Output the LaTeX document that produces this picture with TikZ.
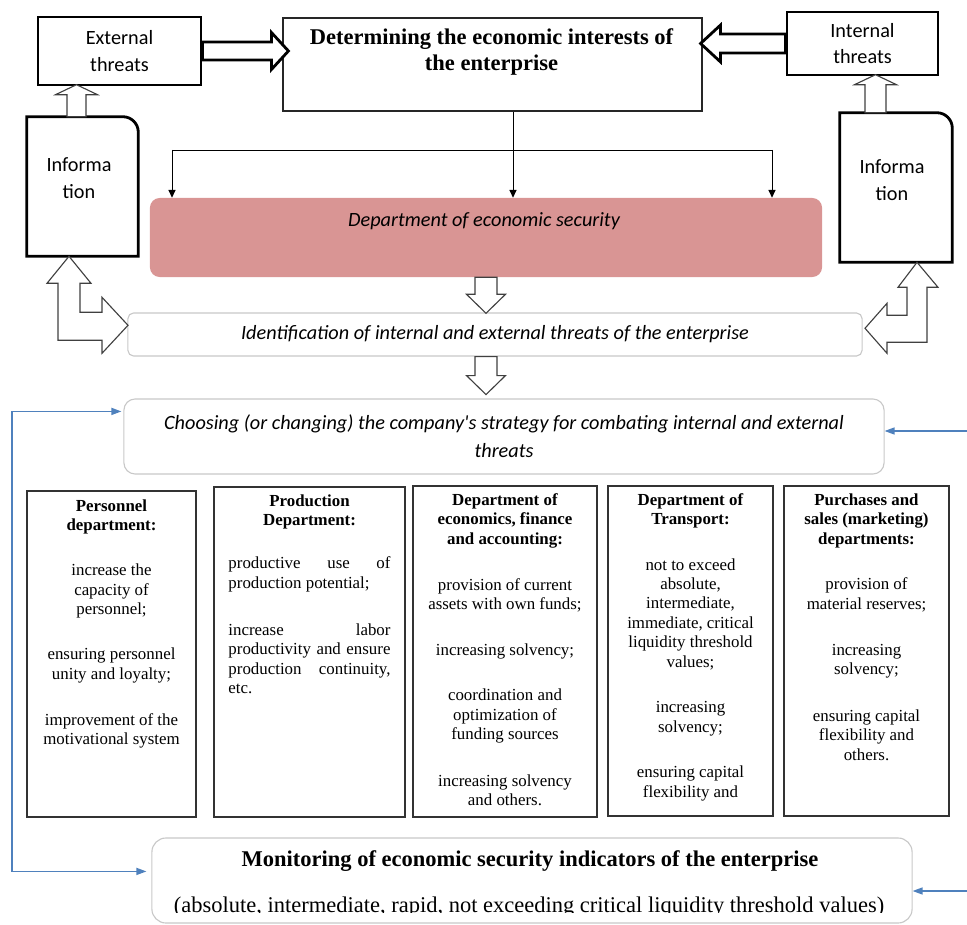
\documentclass[tikz,border=0pt]{standalone}
\usepackage{fontspec}
\setmainfont{Liberation Serif}
\newfontfamily\calibrifont{Carlito}
\usetikzlibrary{arrows.meta, positioning, calc}

\definecolor{secpink}{RGB}{217,149,148}
\definecolor{fbblue}{RGB}{79,129,189}
\definecolor{softgray}{RGB}{200,200,200}

\newcommand{\jline}[1]{\makebox[4.05cm][s]{#1}}
\newcommand{\lline}[1]{\makebox[4.05cm][l]{#1}}

\tikzset{
  pics/hollow/.style args={#1/#2/#3/#4}{code={
    \draw[fill=white] (0,-#2) -- ({#1-#4},-#2) -- ({#1-#4},-#3) -- (#1,0)
      -- ({#1-#4},#3) -- ({#1-#4},#2) -- (0,#2) -- cycle;
  }},
}

\begin{document}
\begin{tikzpicture}[x=0.025cm, y=-0.025cm,
  sans/.style={font=\calibrifont\fontsize{14.4pt}{19pt}\selectfont, align=center},
  sansit/.style={font=\calibrifont\itshape\fontsize{14.4pt}{20pt}\selectfont, align=center},
  heavybox/.style={draw, line width=2pt, inner sep=0pt},
  plainbox/.style={draw=black!85, line width=0.8pt, inner sep=0pt},
  softbox/.style={draw=softgray, line width=0.8pt, inner sep=0pt, rounded corners=#1},
  deptbox/.style={draw=black!80, line width=1pt, inner sep=0pt},
  depttext/.style={font=\fontsize{12pt}{13.8pt}\selectfont, align=center, inner sep=0pt},
  conn/.style={line width=0.7pt, -{Triangle[length=5.5pt,width=5pt]}},
  fb/.style={draw=fbblue, line width=0.85pt, -{Triangle[length=7pt,width=5pt]}},
  thinarrow/.style={line width=0.8pt, color=black!75},
]
\useasboundingbox (0,0) rectangle (967,925);

% top row
\node[heavybox, sans, minimum width=4.075cm, minimum height=1.7cm] (ext) at (119.5,51) {External\\threats};
\node[plainbox, minimum width=10.475cm, minimum height=2.325cm] (det) at (492.5,64.5) {};
\node[font=\bfseries\fontsize{16pt}{18pt}\selectfont, align=center] (dettext) at ($(det.north)+(-1,34.5)$) {Determining the economic interests of\\the enterprise};
\node[heavybox, sans, minimum width=3.775cm, minimum height=1.575cm] (int) at (862.5,43.5) {Internal\\threats};

\pic[line width=2pt] at (ext.east) {hollow=86/9/18.5/17};
\pic[line width=2pt, rotate=180] at (int.west) {hollow=85/9.5/18.5/20};

% information blocks
\node[minimum width=2.775cm, minimum height=3.475cm, inner sep=0pt] (infoL) at (82.5,186.5) {};
\draw[line width=2pt] (infoL.south west) -- (infoL.north west) -- ([xshift=-11pt]infoL.north east)
  arc[start angle=90, end angle=0, radius=11pt] -- (infoL.south east) -- cycle;
\node[sans] (infoLtext) at ($(infoL.center)+(-3.5,-8.5)$) {Informa\\tion};

\node[minimum width=2.8cm, minimum height=3.725cm, inner sep=0pt] (infoR) at (896,187.5) {};
\draw[line width=2pt] (infoR.south west) -- (infoR.north west) -- ([xshift=-11pt]infoR.north east)
  arc[start angle=90, end angle=0, radius=11pt] -- (infoR.south east) -- cycle;
\node[sans] (infoRtext) at ($(infoR.center)+(-4,-7.5)$) {Informa\\tion};

\pic[thinarrow, rotate=90] at ($(infoL.north)+(-6,0)$) {hollow=32/9.5/21/10};
\pic[thinarrow, rotate=90] at ($(infoR.north)+(-20.5,0)$) {hollow=38/10.5/21/10};

% security department
\node[fill=secpink, rounded corners=7pt, minimum width=16.8cm, minimum height=1.975cm, inner sep=0pt] (sec) at (486,237.5) {};
\node[sansit] (sectext) at ($(sec.north)+(-2,23)$) {Department of economic security};

\coordinate (split) at (513,150);
\coordinate (brL) at (172,150);
\coordinate (brR) at (772,150);
\draw[conn] (det.south -| split) -- (split |- sec.north);
\draw[line width=0.7pt] (brL) -- (brR);
\draw[conn] (brL) -- (brL |- sec.north);
\draw[conn] (brR) -- (brR |- sec.north);

% threats and strategy
\node[softbox=4pt, sansit, minimum width=18.35cm, minimum height=1.075cm] (ident) at (495,334.5) {Identification of internal and external threats of the enterprise};
\node[softbox=8pt, sansit, minimum width=19cm, minimum height=1.875cm] (choose) at (504,436.5) {Choosing (or changing) the company\textquotesingle s strategy for combating internal and external\\threats};

\pic[thinarrow, rotate=-90] at (sec.south) {hollow=36/11/19.5/19};
\pic[thinarrow, rotate=-90] at ($(ident.south)+(-9,0)$) {hollow=38/11/19.5/19};

\draw[thinarrow, fill=white] ($(infoL.south)+(-13.5,0)$) -- ++(22,27) -- ++(-11,0) -- ++(0,29) -- ++(22,0)
  -- ++(0,-15) -- ++(26,28) -- ++(-26,28) -- ++(0,-13) -- ++(-44,0) -- ++(0,-57) -- ++(-11,0) -- cycle;
\draw[thinarrow, fill=white] ($(infoR.south)+(21,0)$) -- ++(21,25) -- ++(-11,0) -- ++(0,55) -- ++(-40,0)
  -- ++(0,11) -- ++(-22,-25) -- ++(22,-25) -- ++(0,12) -- ++(20,0) -- ++(0,-28) -- ++(-9,0) -- cycle;

% departments
\node[deptbox, minimum width=4.225cm, minimum height=8.15cm] (persbox) at (111.5,654) {};
\node[deptbox, minimum width=4.775cm, minimum height=8.25cm] (prodbox) at (309.5,652) {};
\node[deptbox, minimum width=4.6cm, minimum height=8.275cm] (econbox) at (505,651.5) {};
\node[deptbox, minimum width=4.125cm, minimum height=8.25cm] (transbox) at (690.5,651) {};
\node[deptbox, minimum width=4.125cm, minimum height=8.25cm] (purchbox) at (866.5,651) {};

\node[depttext, below=0.22cm of persbox.north] (pers) {\textbf{Personnel}\\\textbf{department:}\\[18.4pt]increase the\\capacity of\\personnel;\\[18.4pt]ensuring personnel\\unity and loyalty;\\[19pt]improvement of the\\motivational system};
\node[depttext, below=0.2cm of prodbox.north] (prod) {\textbf{Production}\\\textbf{Department:}\\[17pt]\jline{productive use of}\\\lline{production potential;}\\[19.5pt]\jline{increase labor}\\\jline{productivity and ensure}\\\jline{production continuity,}\\\lline{etc.}};
\node[depttext, below=0.2cm of econbox.north] (econ) {\textbf{Department of}\\\textbf{economics, finance}\\\textbf{and accounting:}\\[18.8pt]provision of current\\assets with own funds;\\[18.8pt]increasing solvency;\\[18.4pt]coordination and\\optimization of\\funding sources\\[19.5pt]increasing solvency\\and others.};
\node[depttext, below=0.2cm of transbox.north] (trans) {\textbf{Department of}\\\textbf{Transport:}\\[18.4pt]not to exceed\\absolute,\\intermediate,\\immediate, critical\\liquidity threshold\\values;\\[18.8pt]increasing\\solvency;\\[18.4pt]ensuring capital\\flexibility and};
\node[depttext, below=0.2cm of purchbox.north] (purch) {\textbf{Purchases and}\\\textbf{sales (marketing)}\\\textbf{departments:}\\[18.8pt]provision of\\material reserves;\\[18.8pt]increasing\\solvency;\\[19.5pt]ensuring capital\\flexibility and\\others.};

% monitoring
\node[softbox=10pt, minimum width=19cm, minimum height=2.125cm] (monitor) at (532,880.5) {};
\node[font=\bfseries\fontsize{16pt}{18pt}\selectfont] (montitle) at ($(monitor.north)+(-2,24)$) {Monitoring of economic security indicators of the enterprise};
\begin{scope}
  \clip (monitor.north west) rectangle (967,912.5);
  \node[font=\fontsize{16pt}{18pt}\selectfont, anchor=base] (monnote) at ($(monitor.north)+(-3,75)$) {(absolute, intermediate, rapid, not exceeding critical liquidity threshold values)};
\end{scope}

% feedback lines
\coordinate (fbL) at (12,640);
\coordinate (fbR1) at (967,431);
\coordinate (fbR2) at (967,891);
\draw[fb, {Triangle[length=7pt,width=5pt]}-{Triangle[length=7pt,width=5pt]}] ($(choose.north west)+(-2,13)$) -| (fbL) |- ($(monitor.north west)+(-5,34)$);
\draw[fb] (fbR1) -- (fbR1 -| choose.east);
\draw[fb] (fbR2) -- (fbR2 -| monitor.east);
\end{tikzpicture}
\end{document}
